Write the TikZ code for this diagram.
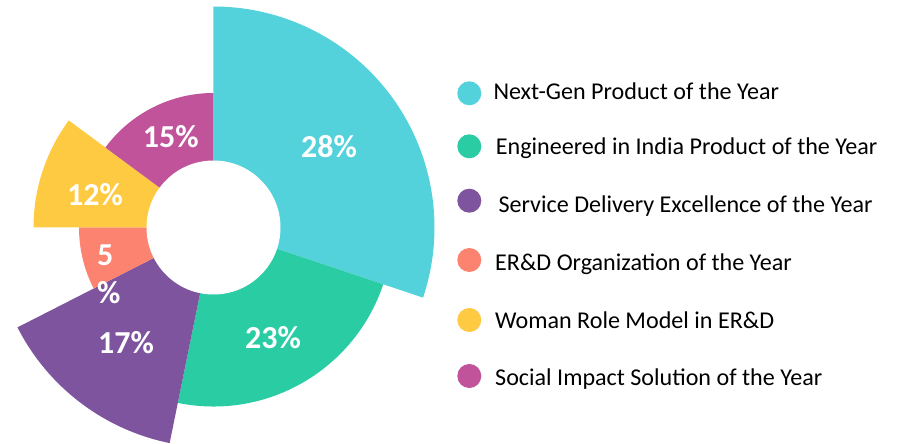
\documentclass[tikz,border=0pt]{standalone}
\usepackage{fontspec}
\setmainfont{Carlito}
\usepackage{xcolor}
\usepackage{tikz}
\usetikzlibrary{positioning}
\definecolor{nextgen}{HTML}{54D2DB}
\definecolor{engind}{HTML}{2ACCA4}
\definecolor{service}{HTML}{7F549E}
\definecolor{erdorg}{HTML}{FB8370}
\definecolor{woman}{HTML}{FECA42}
\definecolor{social}{HTML}{C0539A}
\tikzset{pctnode/.style={text=white,font=\fontsize{32}{38}\selectfont\bfseries,inner sep=0pt},
	legdot/.style={shape=circle,minimum size=24pt,inner sep=0pt},
	legtext/.style={anchor=base west,inner sep=0pt,font=\fontsize{24.1}{28}\selectfont}}

\begin{document}
\begin{tikzpicture}[x=1pt,y=1pt]
	\useasboundingbox (-213.5,-216.5) rectangle (685.5,227.5);
	% rose sectors
	\fill[nextgen] (0,0) -- (90:221pt) arc[start angle=90,end angle=-18.5,radius=221pt] -- cycle;
	\fill[engind] (0,0) -- (-18.5:179pt) arc[start angle=-18.5,end angle=-101.5,radius=179pt] -- cycle;
	\fill[service] (0,0) -- (-101.5:220pt) arc[start angle=-101.5,end angle=-153,radius=220pt] -- cycle;
	\fill[erdorg] (0,0) -- (-153:134.5pt) arc[start angle=-153,end angle=-180,radius=134.5pt] -- cycle;
	\fill[woman] (0,0) -- (180:180pt) arc[start angle=180,end angle=143.5,radius=180pt] -- cycle;
	\fill[social] (0,0) -- (143.5:134.5pt) arc[start angle=143.5,end angle=90,radius=134.5pt] -- cycle;
	\fill[white] (0,0) circle (67pt);
	%
	\node[pctnode] (p28) at (115.5,80.8) {28\%};
	\node[pctnode] (p23) at (59.5,-110.5) {23\%};
	\node[pctnode] (p17) at (-87.5,-115.5) {17\%};
	\node[pctnode,anchor=west,align=left] (p5) at (-116.5,-46.5) {5\\\%};
	\node[pctnode] (p12) at (-118.5,32.5) {12\%};
	\node[pctnode] (p15) at (-42.8,90.8) {15\%};
	% legend
	\node[legdot,fill=nextgen] (d1) at (255.8,134.2) {};
	\node[legdot,fill=engind] (d2) at (255.8,81.2) {};
	\node[legdot,fill=service] (d3) at (255.8,26.8) {};
	\node[legdot,fill=erdorg] (d4) at (255.8,-32.5) {};
	\node[legdot,fill=woman] (d5) at (255.8,-92.5) {};
	\node[legdot,fill=social] (d6) at (255.8,-148.5) {};
	\node[legtext] (t1) at (279.8,128.2) {Next-Gen Product of the Year};
	\node[legtext] (t2) at (282.2,73.2) {Engineered in India Product of the Year};
	\node[legtext] (t3) at (284.8,14.8) {Service Delivery Excellence of the Year};
	\node[legtext] (t4) at (281.5,-43.2) {ER\&D Organization of the Year};
	\node[legtext] (t5) at (281.5,-100.8) {Woman Role Model in ER\&D};
	\node[legtext] (t6) at (281.5,-157.5) {Social Impact Solution of the Year};
\end{tikzpicture}
\end{document}
